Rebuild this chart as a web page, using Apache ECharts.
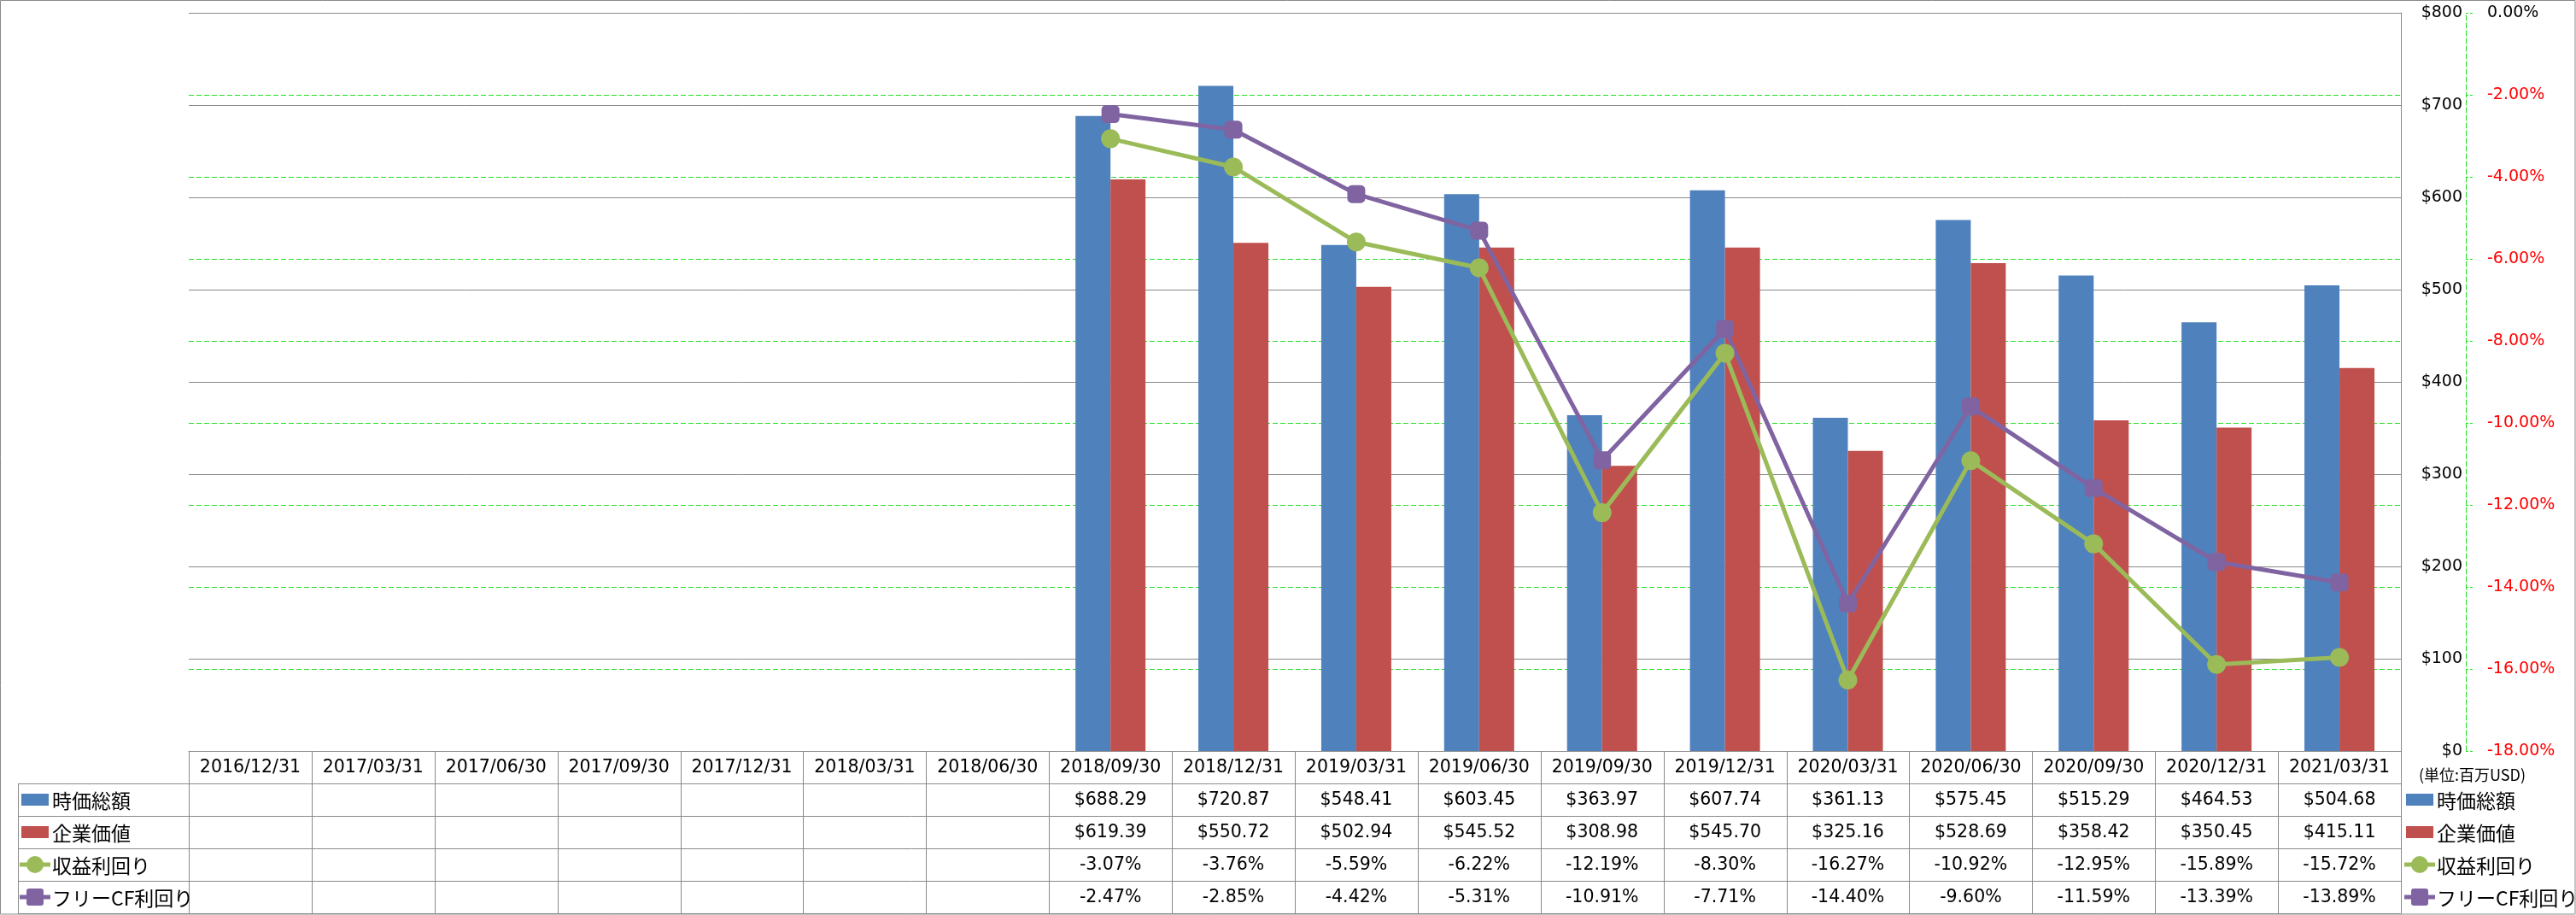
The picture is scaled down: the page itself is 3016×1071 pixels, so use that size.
<!DOCTYPE html>
<html><head><meta charset="utf-8">
<script src="https://cdn.jsdelivr.net/npm/echarts@6/dist/echarts.min.js"></script>
<style>html,body{margin:0;padding:0;background:#fff}#c{width:3016px;height:1071px}</style>
</head><body><div id="c"></div>
<script>
const categories = ['2016/12/31','2017/03/31','2017/06/30','2017/09/30','2017/12/31','2018/03/31','2018/06/30','2018/09/30','2018/12/31','2019/03/31','2019/06/30','2019/09/30','2019/12/31','2020/03/31','2020/06/30','2020/09/30','2020/12/31','2021/03/31'];
const marketCap = [null,null,null,null,null,null,null,688.29,720.87,548.41,603.45,363.97,607.74,361.13,575.45,515.29,464.53,504.68];
const enterpriseValue = [null,null,null,null,null,null,null,619.39,550.72,502.94,545.52,308.98,545.70,325.16,528.69,358.42,350.45,415.11];
const earningsYield = [null,null,null,null,null,null,null,-3.07,-3.76,-5.59,-6.22,-12.19,-8.30,-16.27,-10.92,-12.95,-15.89,-15.72];
const fcfYield = [null,null,null,null,null,null,null,-2.47,-2.85,-4.42,-5.31,-10.91,-7.71,-14.40,-9.60,-11.59,-13.39,-13.89];
const seriesNames = ['時価総額','企業価値','収益利回り','フリーCF利回り'];
const unitLabel = '(単位:百万USD)';

const C_BLUE='#4F81BD', C_RED='#C0504D', C_GREEN='#9BBB59', C_PURPLE='#8064A2';
const GRAY='#898989', GGREEN='#1fe01f';
const NUM_FONT='DejaVu Sans', JP_FONT='Noto Sans CJK JP';
const fmtMoney = v => v==null ? '' : '$'+v.toFixed(2);
const fmtPct = v => v==null ? '' : v.toFixed(2)+'%';

const chart = echarts.init(document.getElementById('c'), null, {renderer:'canvas'});
const GRID = {left:221, top:15, right:205, bottom:192};
chart.setOption({
  animation:false,
  backgroundColor:'#fff',
  grid:{left:GRID.left, top:GRID.top, right:GRID.right, bottom:GRID.bottom, containLabel:false},
  xAxis:{type:'category', data:categories, boundaryGap:true,
    axisLine:{show:true, lineStyle:{color:GRAY, width:1}}, axisTick:{show:false}, axisLabel:{show:false}, splitLine:{show:false}},
  yAxis:[
    {type:'value', position:'right', min:0, max:800, interval:100,
     axisLine:{show:true, lineStyle:{color:GRAY, width:1}}, axisTick:{show:false},
     axisLabel:{margin:72, align:'right', formatter:v=>'$'+v, fontFamily:NUM_FONT, fontSize:19, color:'#000'},
     splitLine:{show:true, lineStyle:{color:GRAY, width:1}}},
    {type:'value', position:'right', offset:76, min:-18, max:0, interval:2,
     axisLine:{show:true, lineStyle:{color:GGREEN, width:1, type:[6,3]}},
     axisTick:{show:true, inside:false, length:9, lineStyle:{color:GGREEN, width:1, type:[3,2]}},
     axisLabel:{margin:25, formatter:v=>v.toFixed(2)+'%', fontFamily:NUM_FONT, fontSize:19, color:(v)=> (Number(v)===0?'#000':'#ff0000')},
     splitLine:{show:true, showMinLine:false, showMaxLine:false, lineStyle:{color:GGREEN, width:1, type:[6,3]}}}
  ],
  series:[
    {name:seriesNames[0], type:'bar', data:marketCap, barWidth:41, barGap:'0%', itemStyle:{color:C_BLUE}},
    {name:seriesNames[1], type:'bar', data:enterpriseValue, barWidth:41, barGap:'0%', itemStyle:{color:C_RED}},
    {name:seriesNames[2], type:'line', yAxisIndex:1, data:earningsYield, symbol:'circle', symbolSize:22,
     lineStyle:{color:C_GREEN, width:5}, itemStyle:{color:C_GREEN}},
    {name:seriesNames[3], type:'line', yAxisIndex:1, data:fcfYield, symbol:'roundRect', symbolSize:21,
     lineStyle:{color:C_PURPLE, width:5}, itemStyle:{color:C_PURPLE}}
  ]
});

// Data table built from the axis geometry
const xa = chart.convertToPixel({xAxisIndex:0}, categories[0]);
const xb = chart.convertToPixel({xAxisIndex:0}, categories[1]);
const bw = xb - xa;
const tLeft = xa - bw/2;
const tRight = tLeft + bw*categories.length;
const yTop = 1071 - GRID.bottom;
const rowH = 38;
const rowTops = [yTop, yTop+rowH, yTop+2*rowH, yTop+3*rowH, yTop+4*rowH, yTop+5*rowH];
const labelLeft = 21;
const g = [];
const ln = (x1,y1,x2,y2,color,w,dash)=>g.push({type:'line', silent:true, shape:{x1,y1,x2,y2}, style:{stroke:color||GRAY, lineWidth:w||1, lineDash:dash||null}, z:10});
const tx = (x,y,text,opt)=>g.push({type:'text', silent:true, x, y, style:Object.assign({text, fill:'#000', font:'20.5px "'+NUM_FONT+'"', align:'center', verticalAlign:'middle'}, opt||{}), z:11});

// outer border
g.push({type:'rect', silent:true, shape:{x:0.5,y:0.5,width:3014.5,height:1069.5}, style:{fill:null, stroke:GRAY, lineWidth:1}, z:9});
// horizontal table lines
ln(Math.round(tLeft)+0.5, yTop+0.5, tRight, yTop+0.5);
for (let r=1;r<=5;r++) ln(labelLeft+0.5, rowTops[r]+0.5, tRight, rowTops[r]+0.5);
// vertical lines
ln(labelLeft+0.5, rowTops[1], labelLeft+0.5, rowTops[5]+0.5);
for (let i=0;i<=categories.length;i++){
  const x = Math.round(tLeft + i*bw)+0.5;
  ln(x, yTop, x, rowTops[5]+0.5);
}
// header & values
const rows = [marketCap.map(fmtMoney), enterpriseValue.map(fmtMoney), earningsYield.map(fmtPct), fcfYield.map(fmtPct)];
for (let i=0;i<categories.length;i++){
  const cx = chart.convertToPixel({xAxisIndex:0}, categories[i]);
  tx(cx, yTop+rowH/2+1, categories[i]);
  rows.forEach((row,r)=>{ if(row[i]) tx(cx, rowTops[r+1]+rowH/2+1, row[i]); });
}
// legend keys
const colors=[C_BLUE,C_RED,C_GREEN,C_PURPLE];
function legendKey(x, yc, idx){
  if (idx<2){
    g.push({type:'rect', silent:true, shape:{x:x, y:yc-7, width:32, height:14}, style:{fill:colors[idx]}, z:12});
  } else {
    ln(x-2, yc, x+34, yc, colors[idx], 5);
    if (idx===2) g.push({type:'circle', silent:true, shape:{cx:x+16, cy:yc, r:10}, style:{fill:colors[idx]}, z:13});
    else g.push({type:'rect', silent:true, shape:{x:x+6, y:yc-10, width:20, height:20, r:3}, style:{fill:colors[idx]}, z:13});
  }
}
seriesNames.forEach((nm,idx)=>{
  const yc = rowTops[idx+1]+rowH/2;
  legendKey(25, yc, idx);
  tx(61, yc+1, nm, {align:'left', font:'23px "'+JP_FONT+'"'});
  legendKey(2817, yc, idx);
  tx(2853, yc+1, nm, {align:'left', font:'23px "'+JP_FONT+'"'});
});
tx(2832, 907, unitLabel, {align:'left', font:'18px "'+JP_FONT+'"'});

chart.setOption({graphic:{elements:g}});
</script></body></html>
